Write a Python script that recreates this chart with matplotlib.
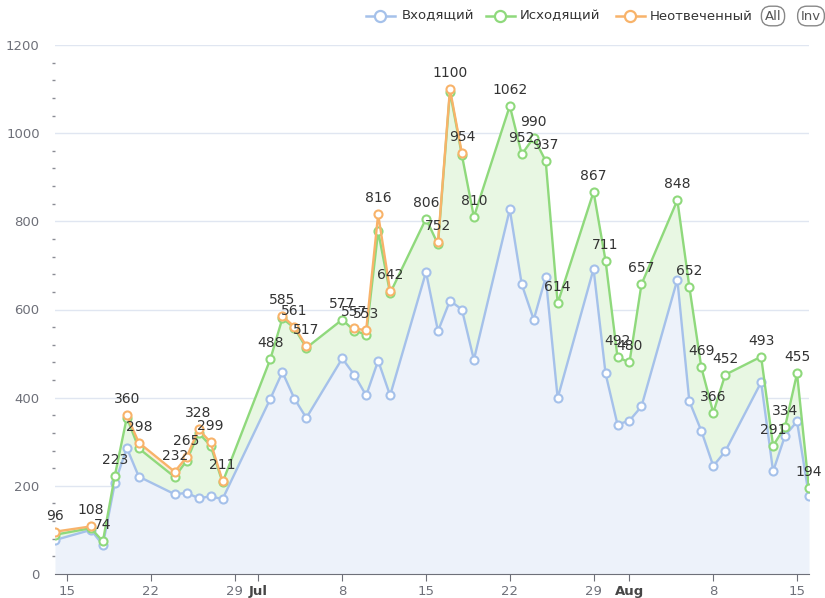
import numpy as np
import matplotlib
matplotlib.use("Agg")
import matplotlib.pyplot as plt
import matplotlib.dates as mdates
from matplotlib.lines import Line2D
from datetime import date

plt.rcParams.update({"font.family": "DejaVu Sans", "font.size": 9.5})

# ---- data ----
dates = [
    "2024-06-14", "2024-06-17", "2024-06-18", "2024-06-19", "2024-06-20", "2024-06-21",
    "2024-06-24", "2024-06-25", "2024-06-26", "2024-06-27", "2024-06-28",
    "2024-07-02", "2024-07-03", "2024-07-04", "2024-07-05",
    "2024-07-08", "2024-07-09", "2024-07-10", "2024-07-11", "2024-07-12",
    "2024-07-15", "2024-07-16", "2024-07-17", "2024-07-18", "2024-07-19",
    "2024-07-22", "2024-07-23", "2024-07-24", "2024-07-25", "2024-07-26",
    "2024-07-29", "2024-07-30", "2024-07-31", "2024-08-01", "2024-08-02",
    "2024-08-05", "2024-08-06", "2024-08-07", "2024-08-08", "2024-08-09",
    "2024-08-12", "2024-08-13", "2024-08-14", "2024-08-15", "2024-08-16",
]
incoming = [
    77, 100, 66, 206, 286, 221,
    181, 184, 172, 176, 170,
    398, 458, 398, 354,
    489, 452, 405, 484, 405,
    685, 551, 620, 600, 486,
    827, 657, 577, 673, 399,
    692, 455, 339, 348, 380,
    668, 392, 325, 245, 278,
    435, 233, 314, 346, 176,
]
outgoing = [
    12, 4, 8, 17, 69, 64,
    39, 73, 148, 115, 38,
    90, 122, 160, 159,
    88, 100, 138, 293, 232,
    121, 197, 474, 350, 324,
    235, 295, 413, 264, 215,
    175, 256, 153, 132, 277,
    180, 260, 144, 121, 174,
    58, 58, 20, 109, 18,
]
nan = np.nan
unanswered = [
    7, 4, nan, nan, 5, 13,
    12, 8, 8, 8, 3,
    nan, 5, 3, 4,
    nan, 5, 10, 39, 5,
    nan, 4, 6, 4, nan,
    nan, nan, nan, nan, nan,
    nan, nan, nan, nan, nan,
    nan, nan, nan, nan, nan,
    nan, nan, nan, nan, nan,
]
series_names = ["Входящий", "Исходящий", "Неотвеченный"]

tick_dates = ["2024-06-15", "2024-06-22", "2024-06-29", "2024-07-01", "2024-07-08",
              "2024-07-15", "2024-07-22", "2024-07-29", "2024-08-01", "2024-08-08",
              "2024-08-15"]
tick_labels = ["15", "22", "29", "Jul", "8", "15", "22", "29", "Aug", "8", "15"]
bold_ticks = {"Jul", "Aug"}

# ---- styling ----
c_blue, c_green, c_orange = "#a5c1ea", "#8fd97c", "#f8b36a"
f_blue, f_green, f_orange = "#edf2fa", "#e8f7e3", "#fdeedd"
axis_c = "#6e7079"
grid_c = "#e0e6f1"

x = mdates.date2num([date.fromisoformat(d) for d in dates])
b = np.array(incoming, dtype=float)
g = b + np.array(outgoing, dtype=float)
un = np.array(unanswered, dtype=float)
o = g + un  # NaN where missing
total = np.where(np.isnan(o), g, o)

fig = plt.figure(figsize=(8.25, 5.98), dpi=100)
ax = fig.add_axes([55 / 825, 1 - 574 / 598, (809 - 55) / 825, (574 - 45) / 598])

# areas
ax.fill_between(x, 0, b, color=f_blue, lw=0, zorder=1)
ax.fill_between(x, b, g, color=f_green, lw=0, zorder=1)
ax.fill_between(x, g, o, where=~np.isnan(o), color=f_orange, lw=0, zorder=1)

mk = dict(marker="o", markersize=5.8, markerfacecolor="white", markeredgewidth=1.5)
ax.plot(x, b, color=c_blue, lw=1.7, zorder=3, **mk)
ax.plot(x, g, color=c_green, lw=1.7, zorder=4, **mk)
ax.plot(x, o, color=c_orange, lw=1.7, zorder=5, **mk)

for xi, ti in zip(x, total):
    ax.annotate(f"{int(round(ti))}", (xi, ti), xytext=(0, 6.5), textcoords="offset points",
                ha="center", va="bottom", fontsize=10, color="#333333", zorder=6)

# axes
ax.set_xlim(x[0], x[-1])
ax.set_ylim(0, 1200)
ax.set_yticks(np.arange(0, 1201, 200))
ax.set_yticks(np.arange(0, 1201, 40), minor=True)
ax.grid(axis="y", color=grid_c, lw=1, zorder=0)
ax.set_axisbelow(True)
for s in ["top", "right", "left"]:
    ax.spines[s].set_visible(False)
ax.spines["bottom"].set_color(axis_c)
ax.spines["bottom"].set_zorder(7)
ax.tick_params(axis="y", which="major", length=0, pad=11, colors=axis_c, labelsize=9.5)
ax.tick_params(axis="y", which="minor", length=2.5, width=1, colors="#8a8c94", pad=11)

tx = mdates.date2num([date.fromisoformat(d) for d in tick_dates])
ax.set_xticks(tx)
ax.set_xticklabels(tick_labels)
ax.tick_params(axis="x", length=5, color=axis_c, colors=axis_c, labelsize=9.5, pad=3)
for lab in ax.get_xticklabels():
    if lab.get_text() in bold_ticks:
        lab.set_fontweight("bold")
        lab.set_color("#464646")

# legend (ECharts style, top right)
ly = 1 - 16 / 598
for (x0, cx, tx0), col, name in zip([(366, 380, 402), (486, 500, 520), (616, 630, 650)],
                                    [c_blue, c_green, c_orange], series_names):
    fig.add_artist(Line2D([x0 / 825, (x0 + 29) / 825], [ly, ly], color=col, lw=1.8))
    fig.add_artist(Line2D([cx / 825], [ly], color=col, marker="o", markersize=8,
                          markerfacecolor="white", markeredgewidth=1.6))
    fig.text(tx0 / 825, ly, name, ha="left", va="center", fontsize=9.5, color="#333333")

for cx, txt in [(773, "All"), (811, "Inv")]:
    fig.text(cx / 825, ly, txt, ha="center", va="center", fontsize=9.5, color="#555555",
             bbox=dict(boxstyle="round,pad=0.25,rounding_size=0.7", fc="white", ec="#888888", lw=1))

fig.savefig("out.png", dpi=100)
